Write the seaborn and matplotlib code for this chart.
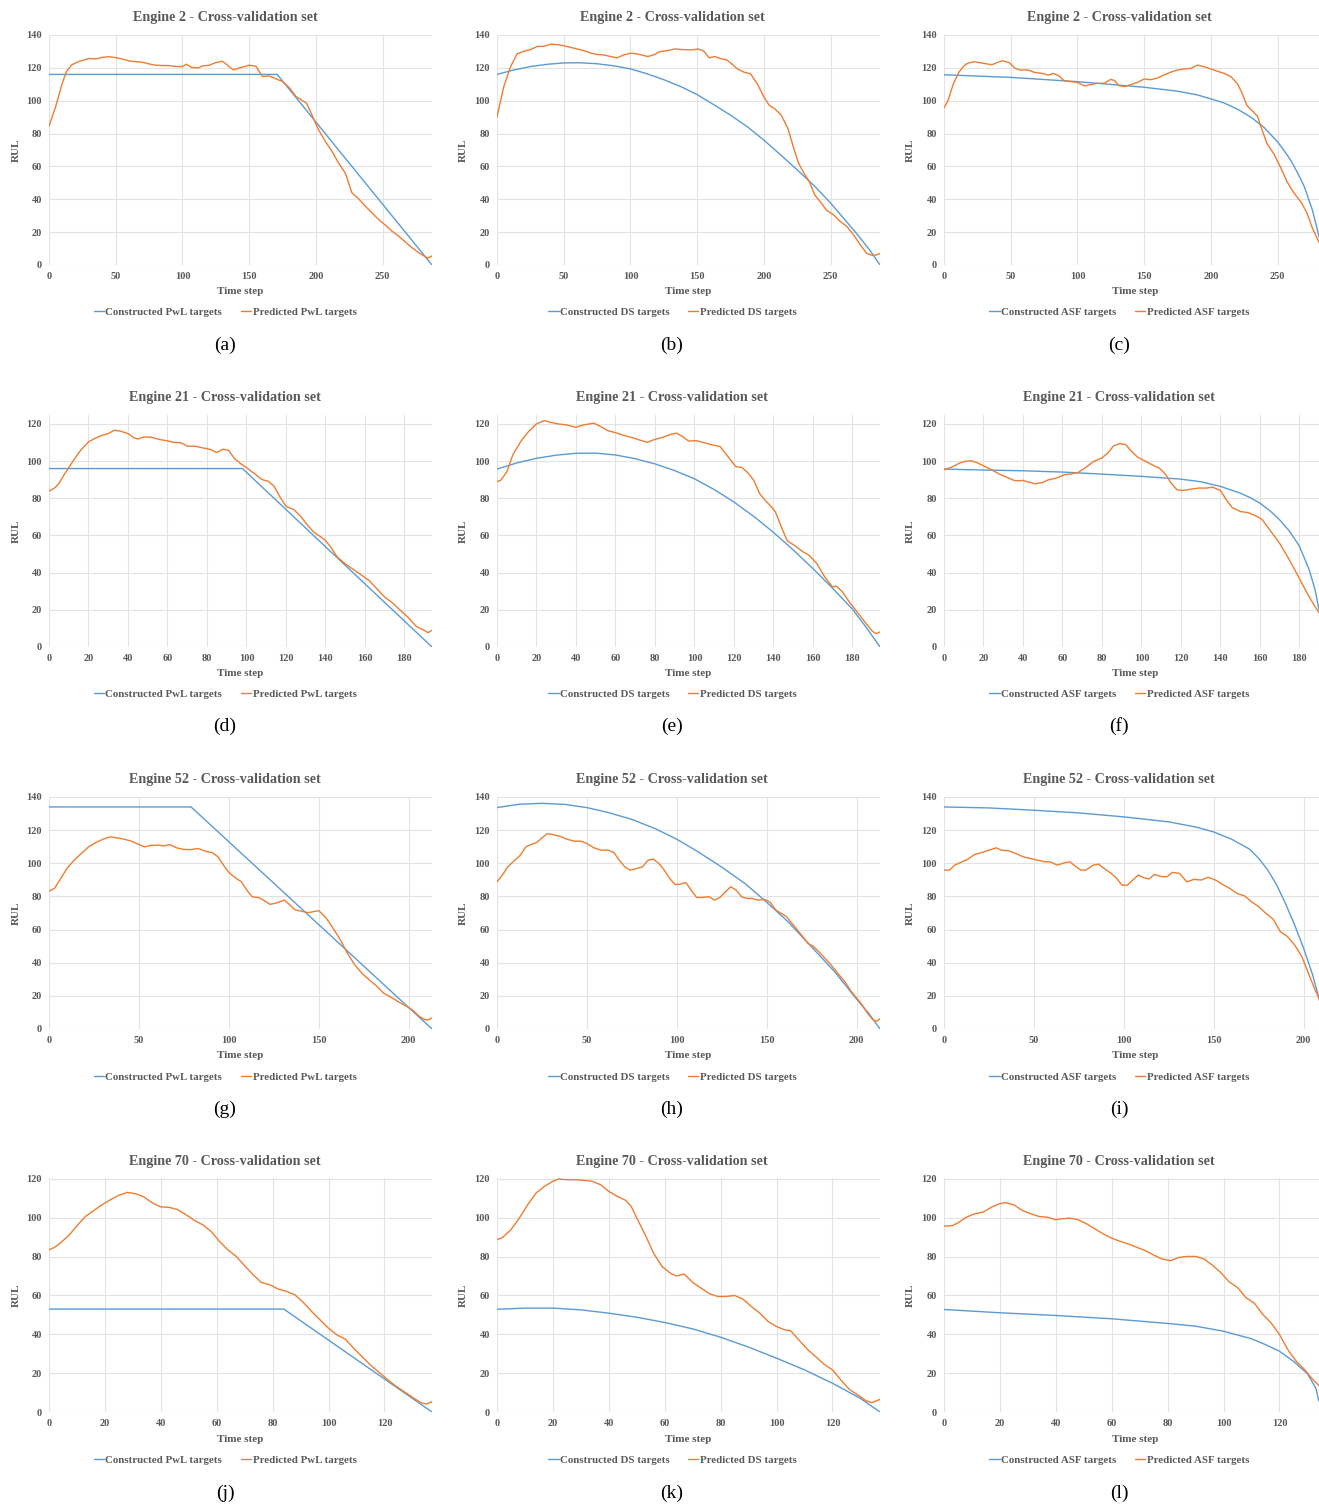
import matplotlib.pyplot as plt
import seaborn as sns

W, H = 1319, 1504
BLUE = "#5B9BD5"
ORANGE = "#ED7D31"
GREY = "#595959"

# ---- values ----
# (a) Engine 2, PwL
a_con_x = [0, 171, 287]
a_con_y = [116, 116, 0]
a_pred_x = [0, 5, 10, 13, 17, 22, 30, 35, 40, 45, 50, 55, 60, 65, 70, 75, 80, 85, 90, 95, 100,
            103, 107, 112, 115, 120, 125, 130, 132, 138, 143, 150, 155, 160, 165, 170, 175, 180,
            185, 190, 193, 197, 202, 207, 212, 217, 222, 227, 232, 237, 242, 247, 252, 257, 262,
            267, 272, 277, 282, 284, 287]
a_pred_y = [84.4, 96.5, 110.7, 117.7, 121.8, 123.8, 125.7, 125.4, 126.4, 126.8, 126.2, 125.4,
            124.2, 123.8, 123.4, 122.4, 121.6, 121.4, 121.4, 120.8, 120.8, 122.2, 120.2, 120,
            121.2, 121.6, 123.2, 124, 122.8, 118.8, 120, 121.6, 121, 114.7, 115.1, 113.3, 111.7,
            108, 102.6, 100, 98.5, 91.4, 82.3, 75.3, 69.2, 62.1, 56, 43.9, 40.3, 35.8, 31.8, 27.7,
            24.3, 20.6, 17.6, 14, 10.5, 7.5, 5, 4.2, 5.5]

# (b) Engine 2, DS
b_con_x = [0, 12, 25, 38, 50, 62, 75, 88, 100, 112, 125, 138, 150, 162, 175, 188, 200, 212,
           225, 238, 250, 260, 270, 279, 287]
b_con_y = [116, 118.6, 120.8, 122.2, 123, 123.1, 122.5, 121.2, 119.4, 116.5, 112.8, 108.5,
           103.7, 97.8, 91.2, 83.9, 76, 67.4, 57.9, 48, 37.7, 28.2, 18.6, 9.4, 0]
b_pred_x = [0, 5, 10, 15, 20, 25, 30, 35, 40, 45, 50, 55, 60, 65, 70, 75, 80, 85, 90, 95, 100,
            105, 110, 113, 118, 122, 128, 133, 140, 146, 151, 155, 159, 163, 168, 172, 176, 180,
            185, 190, 195, 200, 204, 208, 213, 218, 222, 226, 230, 234, 238, 242, 247, 252, 257,
            262, 267, 272, 277, 281, 284, 287]
b_pred_y = [90.2, 108.3, 120.4, 128.5, 130.1, 131.1, 133, 133.1, 134.4, 134.2, 133.5, 132.5,
            131.5, 130.5, 129.1, 128.1, 127.9, 126.9, 126.1, 127.9, 128.9, 128.5, 127.5, 126.9,
            128.1, 129.9, 130.5, 131.5, 131.1, 130.9, 131.5, 130.1, 126.1, 126.9, 125.5, 124.9,
            122.4, 119.4, 117.4, 116.4, 110.3, 102.3, 97.2, 95.2, 91.2, 83.1, 72, 61.9, 55.9,
            50.8, 42.8, 38.7, 33.3, 30.7, 26.6, 23.6, 18.6, 12.5, 7.1, 5.9, 6.1, 6.9]

# (c) Engine 2, ASF
c_con_x = [0, 50, 100, 150, 175, 190, 200, 210, 220, 230, 240, 250, 255, 260, 265, 270, 276,
           281, 287]
c_con_y = [115.8, 114.2, 111.6, 108.2, 105.8, 103.5, 101.1, 98.6, 94.8, 90, 83.6, 74.9, 69.5,
           63.5, 56, 47.7, 33.6, 17.5, 0]
c_pred_x = [0, 3, 7, 11, 15, 18, 23, 30, 36, 40, 44, 49, 53, 57, 63, 68, 74, 78, 82, 86, 90, 95,
            100, 105, 110, 115, 120, 125, 128, 131, 135, 140, 145, 150, 155, 160, 165, 170, 175,
            180, 185, 190, 195, 200, 205, 210, 215, 220, 223, 227, 232, 235, 238, 242, 247, 252,
            257, 262, 268, 272, 276, 281, 285]
c_pred_y = [95.7, 100.1, 110.2, 117.2, 121.3, 122.9, 123.7, 122.7, 121.9, 123.3, 124.3, 123.1,
            119.9, 118.7, 118.7, 117.2, 116.6, 115.6, 116.6, 115.2, 112.2, 111.6, 111.2, 109,
            109.8, 110.6, 110.6, 113, 112.2, 109.2, 108.6, 109.8, 111.2, 113.2, 112.8, 113.8,
            115.8, 117.4, 118.7, 119.3, 119.7, 121.7, 120.7, 119.3, 117.9, 116.6, 114.6, 110.2,
            105.2, 97.1, 93.1, 90.4, 83, 73.9, 67.9, 59.8, 50.8, 44.1, 37.7, 31.6, 22.6, 13.9, 6]

# (d) Engine 21, PwL
d_con_x = [0, 98, 194]
d_con_y = [96, 96, 0]
d_pred_x = [0, 3, 5, 8, 10, 13, 16, 20, 23, 27, 30, 33, 36, 40, 43, 45, 48, 52, 56, 60, 63, 67,
            70, 74, 78, 82, 85, 88, 91, 94, 97, 100, 104, 108, 111, 114, 117, 120, 124, 127, 131,
            134, 137, 140, 143, 146, 150, 154, 158, 162, 166, 170, 174, 178, 182, 186, 190, 192,
            194]
d_pred_y = [83.8, 85.7, 87.9, 93.3, 96.5, 101.3, 105.8, 110.3, 112.1, 113.9, 114.8, 116.6,
            116.2, 114.8, 112.6, 111.9, 113, 112.8, 111.6, 110.9, 110.1, 109.8, 108, 108, 107.1,
            106.2, 104.6, 106.4, 105.8, 101.3, 98.7, 96.5, 93.3, 90, 89.2, 86.5, 80.7, 75.7,
            73.9, 70.9, 65.5, 61.9, 59.7, 57.4, 53.3, 48.4, 44.8, 41.8, 38.9, 35.9, 31.4, 26.9,
            23.7, 19.7, 15.8, 11.1, 9, 7.7, 9]

# (e) Engine 21, DS
e_con_x = [0, 10, 20, 30, 40, 50, 60, 70, 80, 90, 100, 110, 120, 130, 140, 150, 160, 170, 180,
           187, 194]
e_con_y = [95.7, 99, 101.5, 103.2, 104.2, 104.3, 103.3, 101.3, 98.5, 94.9, 90.5, 84.7, 78,
           70.3, 61.7, 52.3, 42.2, 31.6, 20.4, 10.6, 0]
e_pred_x = [0, 2, 5, 8, 12, 16, 20, 24, 27, 31, 35, 40, 44, 49, 52, 56, 60, 64, 68, 72, 76, 80,
            84, 88, 91, 94, 97, 101, 105, 109, 113, 116, 119, 121, 124, 127, 130, 133, 136, 139,
            141, 144, 147, 151, 155, 158, 162, 166, 170, 172, 175, 179, 183, 187, 190, 192, 194]
e_pred_y = [88.9, 89.8, 94.3, 103.3, 110.5, 115.9, 120, 121.8, 120.9, 120, 119.5, 118.2, 119.5,
            120.4, 118.9, 116.4, 115.3, 113.9, 112.8, 111.4, 110.1, 111.7, 112.8, 114.4, 115,
            113.2, 110.8, 111, 109.9, 108.7, 107.8, 103.8, 99.7, 97, 96.6, 93.8, 89.8, 82.6, 78.7,
            75.4, 72.7, 64.7, 57.1, 54.4, 51.2, 49.4, 44.9, 37.7, 32.3, 32.7, 29.6, 23.4, 18,
            12.6, 8.6, 7.2, 8.1]

# (f) Engine 21, ASF
f_con_x = [0, 20, 40, 60, 80, 100, 120, 130, 140, 150, 155, 160, 165, 170, 175, 180, 185, 188,
           190, 194]
f_con_y = [95.7, 95.2, 94.8, 94.1, 93, 91.8, 90.3, 88.9, 86.4, 82.8, 80.4, 77.4, 73.4, 68.4,
           62.3, 54.3, 41.5, 30.6, 19.8, 0]
f_pred_x = [0, 4, 8, 11, 14, 17, 20, 24, 28, 32, 36, 40, 43, 46, 50, 53, 57, 61, 64, 68, 72, 76,
            80, 83, 86, 89, 92, 95, 98, 102, 106, 109, 112, 115, 118, 121, 125, 129, 133, 136,
            140, 143, 146, 150, 154, 158, 161, 165, 170, 175, 180, 184, 188, 191, 194]
f_pred_y = [95.4, 96.8, 99, 99.9, 100.2, 99, 97.5, 95.4, 93, 91.2, 89.4, 89.6, 88.7, 87.8, 88.5,
            90, 90.9, 92.7, 93, 93.9, 96.8, 99.9, 101.7, 104.4, 108.3, 109.4, 108.9, 105.2,
            102.2, 99.9, 97.7, 96.3, 93.2, 88.2, 84.6, 84.2, 84.9, 85.5, 85.5, 86, 84.2, 79.2,
            75, 72.9, 72.3, 70.5, 68.7, 63, 55.8, 46.8, 36.9, 28.8, 21.6, 17.1, 11]

# (g) Engine 52, PwL
g_con_x = [0, 79, 213]
g_con_y = [134, 134, 0]
g_pred_x = [0, 3, 6, 10, 14, 18, 22, 26, 30, 34, 38, 42, 46, 50, 53, 57, 61, 64, 67, 71, 75, 79,
            83, 87, 91, 94, 97, 100, 104, 107, 110, 113, 117, 120, 123, 127, 131, 134, 137, 140,
            144, 147, 150, 154, 158, 162, 166, 170, 174, 178, 182, 186, 190, 194, 198, 202, 206,
            209, 211, 213]
g_pred_y = [83.2, 84.8, 89.9, 96.9, 101.9, 105.9, 109.9, 112.5, 114.5, 115.9, 115.3, 114.5,
            113.3, 111.3, 109.9, 110.9, 110.9, 110.5, 111.3, 109.3, 108.3, 108.3, 108.9, 107.3,
            106.3, 103.9, 98.9, 94.5, 90.9, 88.9, 83.8, 79.8, 79.2, 77.2, 75.2, 76.2, 77.8, 74.8,
            71.8, 71.2, 70.2, 70.8, 71.4, 67.2, 60.8, 53.8, 45.7, 38.7, 33.7, 29.7, 26.1, 21.7,
            19.3, 16.6, 14.2, 11.6, 7.6, 5.6, 5.6, 6.6]

# (h) Engine 52, DS
h_con_x = [0, 12, 25, 38, 50, 62, 75, 88, 100, 112, 125, 138, 150, 162, 175, 188, 200, 207, 213]
h_con_y = [133.6, 135.6, 136.2, 135.5, 133.6, 130.6, 126.5, 120.9, 114.5, 106.8, 97.7, 87.7,
           76.5, 64.6, 49.5, 34.3, 18, 9.1, 0]
h_pred_x = [0, 3, 6, 10, 13, 16, 19, 22, 25, 28, 31, 35, 39, 43, 47, 50, 54, 58, 62, 65, 68, 71,
            74, 78, 81, 84, 87, 90, 93, 96, 99, 102, 105, 108, 111, 114, 118, 121, 124, 127, 130,
            133, 136, 139, 142, 145, 149, 152, 155, 158, 161, 164, 167, 170, 173, 176, 179, 182,
            185, 188, 191, 194, 197, 200, 203, 206, 209, 211, 213]
h_pred_y = [88.8, 92.9, 97.9, 101.9, 104.9, 109.9, 111.3, 112.5, 115.3, 117.9, 117.3, 116.3,
            114.5, 113.3, 113.3, 111.9, 109.3, 107.9, 107.9, 106.5, 101.9, 97.9, 95.9, 96.9,
            97.9, 101.9, 102.5, 99.9, 95.9, 90.9, 87.2, 87.4, 88.4, 83.8, 79.4, 79.4, 79.8, 77.8,
            79.4, 82.8, 85.8, 83.8, 79.8, 78.8, 78.8, 77.8, 78.2, 76.4, 71.8, 69.8, 67.8, 63.8,
            59.8, 55.8, 51.7, 49.7, 46.7, 43.1, 39.7, 35.7, 31.7, 27.7, 22.7, 18.7, 14.6, 9.6,
            5.6, 4.6, 6.2]

# (i) Engine 52, ASF
i_con_x = [0, 25, 50, 75, 100, 125, 140, 150, 160, 170, 175, 180, 185, 190, 195, 200, 205, 208,
           213]
i_con_y = [134, 133.4, 132, 130.4, 128, 125, 121.9, 118.9, 114.5, 108.5, 103, 96, 87, 75.5,
           62.8, 48.7, 32.7, 20.7, 0]
i_pred_x = [0, 3, 6, 10, 13, 17, 21, 25, 29, 32, 36, 40, 44, 48, 52, 56, 59, 63, 67, 70, 73, 76,
            79, 83, 86, 89, 93, 96, 99, 102, 105, 108, 111, 114, 117, 121, 124, 127, 131, 135,
            139, 143, 147, 151, 155, 159, 163, 167, 171, 175, 179, 183, 187, 191, 195, 199, 203,
            206, 208, 211]
i_pred_y = [95.9, 95.9, 98.9, 100.9, 102.3, 105.3, 106.5, 107.9, 109.3, 107.9, 107.5, 105.9,
            103.9, 102.9, 101.9, 100.9, 100.9, 98.9, 100.3, 100.9, 98.3, 95.9, 95.9, 98.9, 99.5,
            96.9, 93.9, 90.9, 86.8, 86.8, 89.9, 92.9, 91.3, 90.5, 93.3, 91.9, 91.9, 94.5, 93.9,
            88.8, 90.3, 89.9, 91.5, 89.9, 87.2, 84.8, 81.8, 80.4, 76.8, 73.8, 69.8, 66.4, 58.8,
            55.8, 50.7, 43.7, 32.7, 24.7, 19.7, 12]

# (j) Engine 70, PwL
j_con_x = [0, 84, 137]
j_con_y = [53, 53, 0]
j_pred_x = [0, 2, 4, 7, 10, 13, 16, 19, 22, 25, 28, 31, 34, 37, 40, 43, 46, 49, 52, 55, 58, 61,
            64, 67, 70, 73, 76, 79, 82, 85, 88, 91, 94, 97, 100, 103, 106, 109, 112, 115, 118,
            121, 124, 127, 130, 133, 135, 137]
j_pred_y = [83.5, 84.8, 87, 90.8, 95.9, 100.7, 103.7, 106.8, 109.3, 111.6, 113.1, 112.4, 110.7,
            107.6, 105.6, 105.4, 104.2, 101.6, 98.7, 96.4, 93, 87.8, 83.5, 80.1, 75.3, 70.7,
            66.7, 65.5, 63.3, 62.1, 60.3, 56.4, 51.7, 47.4, 43.1, 39.7, 37.5, 32.8, 28.5, 24.2,
            20.5, 16.8, 13.4, 10.5, 7.6, 4.8, 4.1, 5.3]

# (k) Engine 70, DS
k_con_x = [0, 10, 20, 30, 40, 50, 60, 70, 80, 90, 100, 110, 120, 130, 137]
k_con_y = [52.9, 53.5, 53.5, 52.6, 50.9, 48.8, 46.1, 42.8, 38.5, 33.4, 27.7, 21.7, 14.8, 7, 0]
k_pred_x = [0, 2, 5, 8, 11, 14, 17, 20, 22, 25, 28, 31, 34, 37, 40, 43, 46, 48, 50, 53, 56, 59,
            62, 64, 67, 70, 73, 76, 79, 82, 85, 88, 91, 94, 97, 100, 103, 105, 108, 111, 114,
            117, 120, 123, 126, 129, 132, 134, 137]
k_pred_y = [88.7, 89.9, 93.9, 99.9, 106.8, 112.8, 116.2, 118.8, 120, 119.6, 119.6, 119.3,
            118.8, 117.1, 113.6, 111.1, 109, 105.9, 99.9, 91.3, 81.8, 75, 71.5, 70.1, 71, 66.7,
            63.8, 60.9, 59.5, 59.5, 60, 58.1, 54.3, 50.9, 46.6, 44, 42.3, 41.9, 37.1, 32.3,
            28.5, 24.6, 21.7, 16.5, 11.7, 8.8, 5.8, 4.8, 6.5]

# (l) Engine 70, ASF
l_con_x = [0, 20, 40, 60, 80, 90, 100, 110, 115, 120, 125, 130, 133, 134, 136]
l_con_y = [52.8, 51.1, 49.7, 48, 45.6, 44.2, 41.6, 37.7, 34.7, 31.3, 26.1, 19.7, 12.3, 6.2, 0]
l_pred_x = [0, 3, 5, 8, 11, 14, 17, 20, 22, 25, 28, 31, 34, 37, 40, 42, 45, 48, 51, 54, 57, 60,
            63, 66, 69, 72, 75, 78, 81, 84, 87, 90, 93, 96, 99, 102, 105, 108, 111, 114, 117,
            120, 123, 126, 129, 132, 135, 137]
l_pred_y = [95.7, 96, 97.4, 100.3, 102.1, 102.9, 105.5, 107.3, 107.8, 106.7, 103.8, 102.1,
            100.7, 100.3, 99, 99.5, 99.8, 99, 96.9, 94.3, 91.7, 89.5, 87.9, 86.5, 84.8, 83.1,
            80.8, 78.8, 77.9, 79.6, 80.1, 80.1, 78.8, 75.6, 71.8, 67, 64.1, 58.9, 56, 50.3, 45.9,
            39.9, 32.1, 26.1, 21.8, 16.6, 12.3, 9]

engines = [2, 21, 52, 70]
methods = ["PwL", "DS", "ASF"]
captions = ["(a)", "(b)", "(c)", "(d)", "(e)", "(f)", "(g)", "(h)", "(i)", "(j)", "(k)", "(l)"]
row_xlim = [287, 194, 213, 137]
row_xstep = [50, 20, 50, 20]
row_ymax = [140, 120, 140, 120]
row_ylim = [140, 124.8, 140, 120.5]

series = [
    (a_con_x, a_con_y, a_pred_x, a_pred_y), (b_con_x, b_con_y, b_pred_x, b_pred_y),
    (c_con_x, c_con_y, c_pred_x, c_pred_y), (d_con_x, d_con_y, d_pred_x, d_pred_y),
    (e_con_x, e_con_y, e_pred_x, e_pred_y), (f_con_x, f_con_y, f_pred_x, f_pred_y),
    (g_con_x, g_con_y, g_pred_x, g_pred_y), (h_con_x, h_con_y, h_pred_x, h_pred_y),
    (i_con_x, i_con_y, i_pred_x, i_pred_y), (j_con_x, j_con_y, j_pred_x, j_pred_y),
    (k_con_x, k_con_y, k_pred_x, k_pred_y), (l_con_x, l_con_y, l_pred_x, l_pred_y),
]

# layout in pixels
col_left = [49, 497, 944]
col_center = [225, 672, 1119]
col_rul = [16, 463, 910]
ax_w = 383
row_box = [(35, 265), (415, 647), (797, 1029), (1178, 1412)]
row_title = [18, 397, 780, 1162]
row_xlabel = [292, 673, 1056, 1439]
row_legend = [312, 694, 1077, 1460]
row_caption = [345, 726, 1109, 1493]

sns.set_style("whitegrid", {"grid.color": "#E3E3E3"})
plt.rcParams["font.family"] = ["Liberation Serif", "DejaVu Serif"]

fig = plt.figure(figsize=(W / 100, H / 100), dpi=100)


def fx(px):
    return px / W


def fy(py):
    return 1 - py / H


for n, (cx, cy, px, py) in enumerate(series):
    row, col = divmod(n, 3)
    top, bottom = row_box[row]
    ax = fig.add_axes([fx(col_left[col]), fy(bottom), ax_w / W, (bottom - top) / H])
    m = methods[col]
    sns.lineplot(x=cx, y=cy, ax=ax, color=BLUE, lw=1.0, sort=False, estimator=None,
                 label=f"Constructed {m} targets", legend=False)
    sns.lineplot(x=px, y=py, ax=ax, color=ORANGE, lw=1.0, sort=False, estimator=None,
                 label=f"Predicted {m} targets", legend=False)

    ax.set_xlim(0, row_xlim[row])
    ax.set_ylim(0, row_ylim[row])
    ax.set_xticks(range(0, row_xlim[row] + 1, row_xstep[row]))
    ax.set_yticks(range(0, row_ymax[row] + 1, 20))
    ax.grid(True, color="#E3E3E3", lw=0.8)
    for s in ax.spines.values():
        s.set_visible(False)
    ax.tick_params(length=0, labelsize=7.5, labelcolor=GREY, pad=5)
    for t in ax.get_xticklabels() + ax.get_yticklabels():
        t.set_fontweight("bold")
    ax.set_xlabel("")
    ax.set_ylabel("")

    fig.text(fx(col_center[col]), fy(row_title[row]),
             f"Engine {engines[row]} - Cross-validation set",
             ha="center", va="center", fontsize=10.2, fontweight="bold", color=GREY)
    fig.text(fx(col_left[col] + ax_w / 2), fy(row_xlabel[row]), "Time step",
             ha="center", va="center", fontsize=8, fontweight="bold", color=GREY)
    fig.text(fx(col_rul[col]), fy((top + bottom) / 2), "RUL", rotation=90,
             ha="center", va="center", fontsize=8, fontweight="bold", color=GREY)
    handles, labels = ax.get_legend_handles_labels()
    leg = fig.legend(handles, labels, loc="center",
                     bbox_to_anchor=(fx(col_center[col]), fy(row_legend[row])),
                     ncol=2, frameon=False, handlelength=1.0, handletextpad=0.1,
                     columnspacing=1.7, prop={"size": 7.8, "weight": "bold"})
    for t in leg.get_texts():
        t.set_color(GREY)
    fig.text(fx(col_center[col]), fy(row_caption[row]), captions[n],
             ha="center", va="center", fontsize=14, color="black")

fig.savefig("out.png", dpi=100, facecolor="white")
